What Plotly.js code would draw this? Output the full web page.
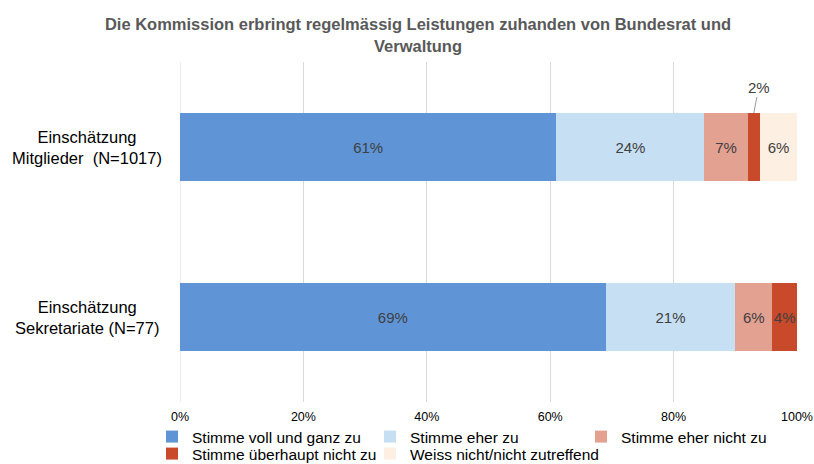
<!DOCTYPE html>
<html><head><meta charset="utf-8">
<script src="https://cdn.plot.ly/plotly-3.0.1.min.js"></script>
<style>body{margin:0;padding:0;background:#fff}#chart{width:814px;height:464px}</style>
</head><body><div id="chart"></div>
<script>
var categories = ["Einschätzung<br>Mitglieder  (N=1017)", "Einschätzung<br>Sekretariate (N=77)"];
var seriesNames = ["Stimme voll und ganz zu", "Stimme eher zu", "Stimme eher nicht zu", "Stimme überhaupt nicht zu", "Weiss nicht/nicht zutreffend"];
var vollGanz = [61, 69];
var eherZu = [24, 21];
var eherNicht = [7, 6];
var ueberhauptNicht = [2, 4];
var weissNicht = [6, 0];
var tickVals = [0, 20, 40, 60, 80, 100];
var tickText = ["0%", "20%", "40%", "60%", "80%", "100%"];

var colors = ["#5f95d6", "#c6dff3", "#e3a192", "#c9492b", "#fdefe2"];
var legendIds = ["legend", "legend2", "legend3", "legend4", "legend5"];
var allSeries = [vollGanz, eherZu, eherNicht, ueberhauptNicht, weissNicht];
var font = "Liberation Sans, Arial, sans-serif";

var traces = allSeries.map(function(vals, i) {
  return {
    type: "bar", orientation: "h",
    name: seriesNames[i], y: categories, x: vals,
    marker: {color: colors[i], line: {width: 0}},
    text: vals.map(function(v, j) {
      if (v === 0) return "";
      if (i === 3 && j === 0) return "";
      return v + "%";
    }),
    textposition: "inside", insidetextanchor: "middle", textangle: 0,
    textfont: {family: font, size: 15, color: "#404040"},
    constraintext: "none", cliponaxis: false,
    hoverinfo: "skip",
    legend: legendIds[i]
  };
});

var annotations = categories.map(function(c) {
  return {xref: "paper", yref: "y", x: -0.151, y: c, text: c, showarrow: false,
    xanchor: "center", yanchor: "middle", align: "center",
    font: {family: font, size: 16.5, color: "#000000"}};
});
annotations.push({
  xref: "x", yref: "y", x: ueberhauptNicht[0] / 2 + vollGanz[0] + eherZu[0] + eherNicht[0], y: categories[0],
  yshift: 34, text: ueberhauptNicht[0] + "%", showarrow: true, arrowhead: 0, arrowwidth: 0.8,
  arrowcolor: "#7f7f7f", ax: 5, ay: -26, standoff: 0,
  font: {family: font, size: 15, color: "#404040"}
});

var legendBase = {orientation: "v", xref: "paper", yref: "container", yanchor: "middle",
  font: {family: font, size: 15.5, color: "#000000"}, bgcolor: "rgba(0,0,0,0)",
  tracegroupgap: 0, itemwidth: 30, traceorder: "normal"};
var row1 = 1 - 437 / 464, row2 = 1 - 454 / 464;

var layout = {
  width: 814, height: 464,
  margin: {l: 180, r: 17, t: 62, b: 62},
  paper_bgcolor: "#ffffff", plot_bgcolor: "#ffffff",
  barmode: "stack", bargap: 0.6,
  title: {text: "<b>Die Kommission erbringt regelmässig Leistungen zuhanden von Bundesrat und<br>Verwaltung</b>",
    x: 0.5135, xref: "container", xanchor: "center", yref: "container", y: 0.935, yanchor: "middle",
    font: {family: font, size: 16.5, color: "#595959"}},
  xaxis: {range: [0, 100], tickvals: tickVals, ticktext: tickText, showgrid: true,
    gridcolor: "#d9d9d9", gridwidth: 1, zeroline: false, showline: false, ticks: "",
    ticklabelstandoff: 5,
    tickfont: {family: font, size: 12.5, color: "#000000"}, fixedrange: true},
  yaxis: {autorange: "reversed", showticklabels: false, showgrid: false, zeroline: false,
    showline: false, ticks: "", fixedrange: true},
  shapes: [{type: "line", xref: "x", yref: "paper", x0: 0, x1: 0, y0: 0, y1: 1,
    line: {color: "#d9d9d9", width: 1}, layer: "below"}],
  annotations: annotations,
  showlegend: true,
  legend: Object.assign({}, legendBase, {x: (152 - 180) / 617, y: row1}),
  legend2: Object.assign({}, legendBase, {x: (370 - 180) / 617, y: row1}),
  legend3: Object.assign({}, legendBase, {x: (581 - 180) / 617, y: row1}),
  legend4: Object.assign({}, legendBase, {x: (152 - 180) / 617, y: row2}),
  legend5: Object.assign({}, legendBase, {x: (370 - 180) / 617, y: row2})
};

Plotly.newPlot("chart", traces, layout, {displayModeBar: false, staticPlot: true});
</script></body></html>
